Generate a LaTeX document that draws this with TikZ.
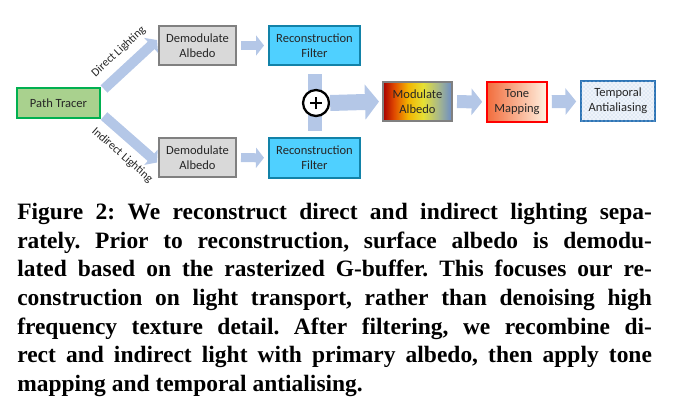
\documentclass[tikz,border=0pt]{standalone}
\usepackage{fontspec}
\setmainfont{Liberation Serif}
\newfontfamily\boxfont{Carlito}
\usetikzlibrary{arrows.meta,patterns}

\definecolor{flowblue}{HTML}{B4C7E7}
\definecolor{tracerfill}{HTML}{A9D18E}
\definecolor{tracerline}{HTML}{00B050}
\definecolor{demodfill}{HTML}{D9D9D9}
\definecolor{demodline}{HTML}{808080}
\definecolor{reconfill}{HTML}{4FD0FF}
\definecolor{reconline}{HTML}{1282A8}
\definecolor{toneleft}{HTML}{F26D3D}
\definecolor{toneright}{HTML}{FFF2E2}
\definecolor{taafill}{HTML}{EEF3FA}
\definecolor{taadots}{HTML}{B9CDE8}
\definecolor{taaline}{HTML}{2E75B6}
\definecolor{albedoA}{HTML}{A80000}
\definecolor{albedoB}{HTML}{E04A00}
\definecolor{albedoC}{HTML}{F3B400}
\definecolor{albedoD}{HTML}{E6E034}
\definecolor{albedoE}{HTML}{A9B98A}
\definecolor{albedoF}{HTML}{6A8CC8}
\pgfdeclarehorizontalshading{albedoshade}{100bp}{color(0bp)=(albedoA); color(25bp)=(albedoA); color(33bp)=(albedoB); color(43bp)=(albedoC); color(54bp)=(albedoD); color(65bp)=(albedoE); color(75bp)=(albedoF); color(100bp)=(albedoF)}

\begin{document}
\begin{tikzpicture}[x=0.75pt,y=-0.75pt,
		box/.style={draw, line width=1.5pt, align=center, inner sep=0pt, text=black!85, font=\boxfont\fontsize{9.4}{11.25}\selectfont},
		flow/.style={draw=flowblue, line cap=butt, line width=6.75pt, -{Triangle[length=6pt,width=15pt]}, shorten <=3pt, shorten >=3pt},
		wideflow/.style={flow, line width=9.75pt, -{Triangle[length=8pt,width=19.5pt]}},
		bigflow/.style={flow, line width=12pt, -{Triangle[length=10.5pt,width=26pt]}},
		lightlabel/.style={font=\boxfont\fontsize{8.8}{10}\selectfont, text=black!85, inner sep=5.5pt, sloped}]
		\useasboundingbox (0,0) rectangle (677,411);
		\node[box, draw=tracerline, fill=tracerfill, minimum width=62.25pt, minimum height=22.5pt] (tracer) at (58.5,103) {Path Tracer};
		\node[box, draw=demodline, fill=demodfill, minimum width=57.75pt, minimum height=29.5pt] (demodA) at (197.5,45.5) {Demodulate\\Albedo};
		\node[box, draw=demodline, fill=demodfill, minimum width=57.75pt, minimum height=29.5pt] (demodB) at (197.5,157.5) {Demodulate\\Albedo};
		\node[box, draw=reconline, fill=reconfill, minimum width=68.25pt, minimum height=29.5pt] (reconA) at (314.5,45.5) {Reconstruction\\Filter};
		\node[box, draw=reconline, fill=reconfill, minimum width=68.25pt, minimum height=29.5pt] (reconB) at (314.5,158) {Reconstruction\\Filter};
		\node[box, draw=demodline, shading=albedoshade, minimum width=51.75pt, minimum height=29.25pt] (modulate) at (417.5,101.5) {Modulate\\Albedo};
		\node[box, draw=red, line width=1.2pt, left color=toneleft, right color=toneright, minimum width=45pt, minimum height=30pt] (tone) at (517,102) {Tone\\Mapping};
		\node[box, draw=taaline, line width=1.2pt, fill=taafill, postaction={pattern=crosshatch dots, pattern color=taadots}, minimum width=55.5pt, minimum height=30pt] (taa) at (618,101) {Temporal\\Antialiasing};
		\draw[flow, line width=7.5pt, shorten <=0pt, shorten >=0pt] ([shift={(3,2)}]tracer.north east) -- ([shift={(-1,-5.5)}]demodA.west)
			node[lightlabel, pos=0.5, anchor=south] {Direct Lighting};
		\draw[flow, line width=7.5pt, shorten <=0pt, shorten >=0pt] ([shift={(3,-3)}]tracer.south east) -- ([shift={(-1,5)}]demodB.west)
			node[lightlabel, pos=0.56, anchor=north] {Indirect Lighting};
		\draw[flow] (demodA) -- (reconA);
		\draw[flow] (demodB) -- (reconB);
		\draw[flowblue, line width=10.5pt, shorten <=6pt, shorten >=4.5pt] (reconA.south) -- (reconB.north);
		\node[circle, draw, line width=1.7pt, fill=white, minimum size=19.5pt, inner sep=0pt] (plus) at (316,103) {};
		\draw[line width=1.9pt] ([xshift=-4.5pt]plus.center) -- ([xshift=4.5pt]plus.center);
		\draw[line width=1.9pt] ([yshift=-4.5pt]plus.center) -- ([yshift=4.5pt]plus.center);
		\draw[bigflow, shorten <=0pt, shorten >=2.25pt] (plus.east) -- (modulate.west);
		\draw[wideflow] (modulate) -- (tone);
		\draw[wideflow] (tone) -- (taa);
		\node[anchor=north west, text width=476pt, align=justify, inner sep=0pt, font=\bfseries\fontsize{17.6}{21.5}\selectfont] (caption) at (17,203) {\frenchspacing\hyphenpenalty=10000\tolerance=10000 Figure 2: We reconstruct direct and indirect lighting sepa-\linebreak rately. Prior to reconstruction, surface albedo is demodu-\linebreak lated based on the rasterized G-buffer. This focuses our re-\linebreak construction on light transport, rather than denoising high\linebreak frequency texture detail. After filtering, we recombine di-\linebreak rect and indirect light with primary albedo, then apply tone\linebreak mapping and temporal antialising.};
\end{tikzpicture}
\end{document}
